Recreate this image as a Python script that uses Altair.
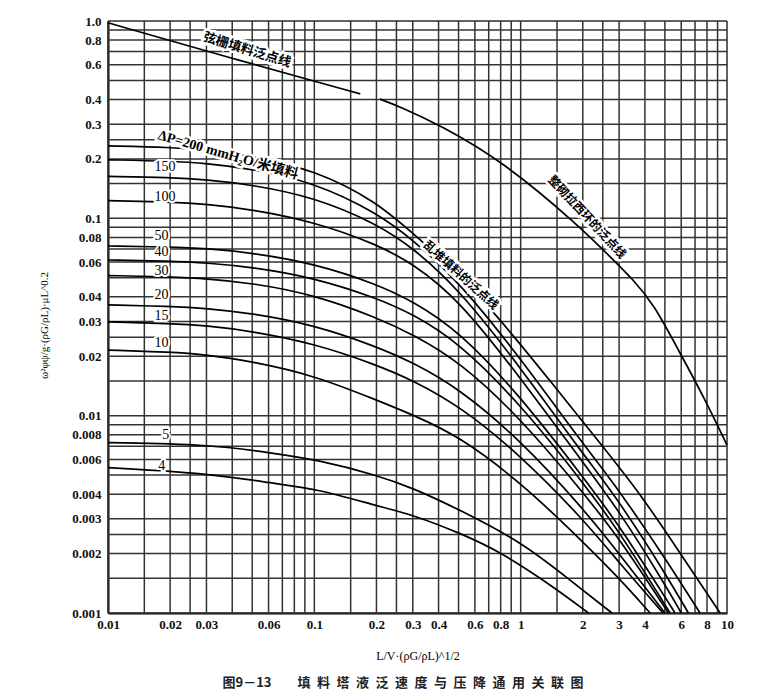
import altair as alt
import pandas as pd

# ---------------- data ----------------
x_ticks = [0.01, 0.02, 0.03, 0.06, 0.1, 0.2, 0.3, 0.4, 0.6, 0.8, 1, 2, 3, 4, 6, 8, 10]
y_ticks = [1.0, 0.8, 0.6, 0.4, 0.3, 0.2, 0.1, 0.08, 0.06, 0.04, 0.03, 0.02,
           0.01, 0.008, 0.006, 0.004, 0.003, 0.002, 0.001]

x_grid = [0.01, 0.015, 0.02, 0.025, 0.03, 0.04, 0.05, 0.06, 0.07, 0.08, 0.09,
          0.1, 0.15, 0.2, 0.25, 0.3, 0.4, 0.5, 0.6, 0.7, 0.8, 0.9,
          1, 1.5, 2, 2.5, 3, 4, 5, 6, 7, 8, 9, 10]
y_grid = [0.001, 0.0015, 0.002, 0.0025, 0.003, 0.004, 0.005, 0.006, 0.007, 0.008, 0.009,
          0.01, 0.015, 0.02, 0.025, 0.03, 0.04, 0.05, 0.06, 0.07, 0.08, 0.09,
          0.1, 0.15, 0.2, 0.25, 0.3, 0.4, 0.5, 0.6, 0.7, 0.8, 0.9, 1.0]

# grid-packing flood line (弦栅) and stacked Raschig ring flood line (整砌拉西环)
x_grid_flood = [0.01, 0.04, 0.167]
y_grid_flood = [0.98, 0.645, 0.427]
x_stack_flood = [0.208, 0.26, 0.406, 0.824, 1.94, 2.81, 3.5, 4.4, 5.93, 7.7, 10]
y_stack_flood = [0.402, 0.368, 0.297, 0.194, 0.0908, 0.0615, 0.049, 0.037, 0.0207, 0.0125, 0.0071]

# random packing flood line and pressure-drop lines (mmH2O per metre of packing)
x_flood = [0.01, 0.02, 0.03, 0.05, 0.1, 0.2, 0.315, 0.514, 0.889, 1.39, 2.43, 3.79, 5.93, 9.26]
y_flood = [0.233, 0.229, 0.222, 0.207, 0.176, 0.122, 0.08, 0.0516, 0.0267, 0.015, 0.00724, 0.00404, 0.00201, 0.001]

x_p200 = [0.01, 0.02, 0.03, 0.05, 0.1, 0.2, 0.3, 0.5, 1, 2, 3, 5, 7.4]
y_p200 = [0.198, 0.195, 0.19, 0.178, 0.152, 0.107, 0.078, 0.048, 0.0195, 0.0072, 0.0042, 0.0019, 0.001]

x_p150 = [0.01, 0.02, 0.03, 0.05, 0.1, 0.2, 0.3, 0.5, 1, 2, 3, 5, 6.5]
y_p150 = [0.163, 0.161, 0.157, 0.148, 0.128, 0.094, 0.071, 0.044, 0.0175, 0.0064, 0.0037, 0.0016, 0.001]

x_p100 = [0.01, 0.02, 0.03, 0.05, 0.1, 0.2, 0.3, 0.5, 1, 2, 3, 5, 6.0]
y_p100 = [0.123, 0.121, 0.118, 0.111, 0.096, 0.074, 0.059, 0.039, 0.0155, 0.0058, 0.0033, 0.0014, 0.001]

x_p50 = [0.01, 0.02, 0.03, 0.05, 0.1, 0.2, 0.3, 0.5, 1, 2, 3, 5.6]
y_p50 = [0.0724, 0.0716, 0.0703, 0.067, 0.059, 0.0465, 0.038, 0.027, 0.0125, 0.0049, 0.0028, 0.001]

x_p40 = [0.01, 0.02, 0.03, 0.05, 0.1, 0.2, 0.3, 0.5, 1, 2, 3, 5.3]
y_p40 = [0.0615, 0.0607, 0.0595, 0.0566, 0.05, 0.0395, 0.0327, 0.0236, 0.0114, 0.0046, 0.0026, 0.001]

x_p30 = [0.01, 0.02, 0.03, 0.05, 0.1, 0.2, 0.3, 0.5, 1, 2, 3, 5.2]
y_p30 = [0.0513, 0.0505, 0.0495, 0.047, 0.041, 0.0315, 0.0258, 0.019, 0.0097, 0.0041, 0.0024, 0.001]

x_p20 = [0.01, 0.02, 0.03, 0.05, 0.1, 0.2, 0.3, 0.5, 1, 2, 3, 5.0]
y_p20 = [0.0364, 0.0358, 0.035, 0.033, 0.0288, 0.0224, 0.0186, 0.0138, 0.0075, 0.0034, 0.002, 0.001]

x_p15 = [0.01, 0.02, 0.03, 0.05, 0.1, 0.2, 0.3, 0.5, 1, 2, 3, 4.9]
y_p15 = [0.0299, 0.0293, 0.0286, 0.0268, 0.0232, 0.0181, 0.0151, 0.0113, 0.0063, 0.003, 0.0018, 0.001]

x_p10 = [0.01, 0.02, 0.03, 0.05, 0.1, 0.2, 0.3, 0.5, 1, 2, 3, 4.24]
y_p10 = [0.0215, 0.021, 0.0204, 0.0188, 0.016, 0.012, 0.0101, 0.0079, 0.0046, 0.0023, 0.0015, 0.001]

x_p5 = [0.01, 0.031, 0.063, 0.105, 0.2, 0.302, 0.508, 1.03, 1.73, 2.77]
y_p5 = [0.0073, 0.00716, 0.00645, 0.00596, 0.005, 0.00429, 0.00333, 0.00226, 0.00147, 0.001]

x_p4 = [0.01, 0.031, 0.063, 0.105, 0.2, 0.302, 0.508, 0.794, 1.44, 2.13]
y_p4 = [0.00545, 0.0051, 0.00454, 0.00424, 0.00349, 0.00314, 0.00254, 0.00205, 0.00136, 0.001]

# curve number labels
num_text = ["150", "100", "50", "40", "30", "20", "15", "10", "5", "4"]
num_x = [0.0168, 0.0168, 0.0168, 0.0168, 0.0168, 0.0168, 0.0168, 0.0168, 0.0183, 0.0175]
num_y = [0.182, 0.129, 0.0815, 0.0676, 0.0541, 0.0409, 0.032, 0.0234, 0.00798, 0.00556]

# rotated line labels
cn_text = ["弦栅填料泛点线", "ΔP=200 mmH₂O/米填料", "乱堆填料的泛点线", "整砌拉西环的泛点线"]
cn_x = [0.0472, 0.0382, 0.514, 2.10]
cn_y = [0.713, 0.209, 0.0516, 0.1016]
cn_angle = [17, 16, 42, 47]
cn_size = [13, 14, 12, 12]

caption = "图9－13\u2003\u2003填\u2002料\u2002塔\u2002液\u2002泛\u2002速\u2002度\u2002与\u2002压\u2002降\u2002通\u2002用\u2002关\u2002联\u2002图"

# ---------------- build tables ----------------
series = [
    ("grid_flood", x_grid_flood, y_grid_flood),
    ("stack_flood", x_stack_flood, y_stack_flood),
    ("flood", x_flood, y_flood),
    ("200", x_p200, y_p200),
    ("150", x_p150, y_p150),
    ("100", x_p100, y_p100),
    ("50", x_p50, y_p50),
    ("40", x_p40, y_p40),
    ("30", x_p30, y_p30),
    ("20", x_p20, y_p20),
    ("15", x_p15, y_p15),
    ("10", x_p10, y_p10),
    ("5", x_p5, y_p5),
    ("4", x_p4, y_p4),
]
rows = []
for name, xs_, ys_ in series:
    for i, (a, b) in enumerate(zip(xs_, ys_)):
        rows.append({"x": a, "y": b, "s": name, "o": i})
curves_df = pd.DataFrame(rows)

num_df = pd.DataFrame({"x": num_x, "y": num_y, "t": num_text})
cn_df = pd.DataFrame({"x": cn_x, "y": cn_y, "t": cn_text, "a": cn_angle, "fs": cn_size})

W, H = 619, 592
xsc = alt.Scale(type="log", domain=[0.01, 10], nice=False)
ysc = alt.Scale(type="log", domain=[0.001, 1], nice=False)

X_TITLE = "L/V·(ρG/ρL)^1/2"
Y_TITLE = "ω²φψ/g·(ρG/ρL)·μL^0.2"

x_axis = alt.Axis(
    values=x_ticks, labelExpr="format(datum.value, '~g')", grid=False, ticks=False,
    domainColor="black", domainWidth=2, labelFont="Liberation Serif", labelFontSize=13,
    labelFontWeight="bold", labelColor="#111", labelPadding=5, labelOverlap=False,
    labelFlush=False,
    title=X_TITLE, titleFont="Liberation Serif", titleFontSize=12,
    titleFontWeight="normal", titleColor="black", titleY=42, titleBaseline="middle",
)
y_axis = alt.Axis(
    values=y_ticks, labelExpr="datum.value == 1 ? '1.0' : format(datum.value, '~g')",
    grid=False, ticks=False, domainColor="black", domainWidth=2,
    labelFont="Liberation Serif", labelFontSize=13, labelFontWeight="bold",
    labelColor="#111", labelPadding=7, labelOverlap=False, labelFlush=False,
    title=Y_TITLE, titleFont="Liberation Serif", titleFontSize=11,
    titleFontWeight="normal", titleColor="black", titleX=-64, titleY=304,
    titleBaseline="middle", titleAlign="center", titleAngle=270,
)


def X(field):
    return alt.X(field, type="quantitative", scale=xsc, axis=x_axis)


def Y(field):
    return alt.Y(field, type="quantitative", scale=ysc, axis=y_axis)


grid_color = "#333333"

gx = alt.Chart(pd.DataFrame({"v": x_grid})).mark_rule(color=grid_color, strokeWidth=1.5).encode(x=X("v"))
gy = alt.Chart(pd.DataFrame({"v": y_grid})).mark_rule(color=grid_color, strokeWidth=1.5).encode(y=Y("v"))

lines = alt.Chart(curves_df).mark_line(color="black", strokeWidth=1.7, interpolate="basis").encode(
    x=X("x"), y=Y("y"), detail="s:N", order="o:Q",
)

nums_halo = alt.Chart(num_df).mark_text(
    font="Liberation Serif", fontSize=14, color="white", stroke="white", strokeWidth=4,
    align="left", baseline="middle"
).encode(x=X("x"), y=Y("y"), text="t:N")
nums = alt.Chart(num_df).mark_text(
    font="Liberation Serif", fontSize=14, color="black", align="left", baseline="middle"
).encode(x=X("x"), y=Y("y"), text="t:N")

cn_halo = alt.Chart(cn_df).mark_text(
    font="Liberation Serif, Noto Sans CJK SC", fontWeight="bold", color="white",
    stroke="white", strokeWidth=5, align="center", baseline="middle"
).encode(
    x=X("x"), y=Y("y"), text="t:N",
    angle=alt.Angle("a:Q", scale=None), size=alt.Size("fs:Q", scale=None, legend=None)
)
cn = alt.Chart(cn_df).mark_text(
    font="Liberation Serif, Noto Sans CJK SC", fontWeight="bold", color="black",
    align="center", baseline="middle"
).encode(
    x=X("x"), y=Y("y"), text="t:N",
    angle=alt.Angle("a:Q", scale=None), size=alt.Size("fs:Q", scale=None, legend=None)
)

cap = alt.Chart(pd.DataFrame({"t": [caption]})).mark_text(
    font="Noto Sans CJK SC", fontSize=13, fontWeight="bold", color="#222",
    align="center", baseline="middle"
).encode(x=alt.value(295), y=alt.value(662), text="t:N")

chart = alt.layer(gx, gy, lines, nums_halo, nums, cn_halo, cn, cap).properties(
    width=W, height=H,
    autosize=alt.AutoSizeParams(type="none"),
    padding={"left": 100, "top": 13, "right": 30, "bottom": 79},
).configure_view(stroke=None).configure(background="white")

chart.save("out.html", embed_options={"renderer": "svg", "actions": False})
